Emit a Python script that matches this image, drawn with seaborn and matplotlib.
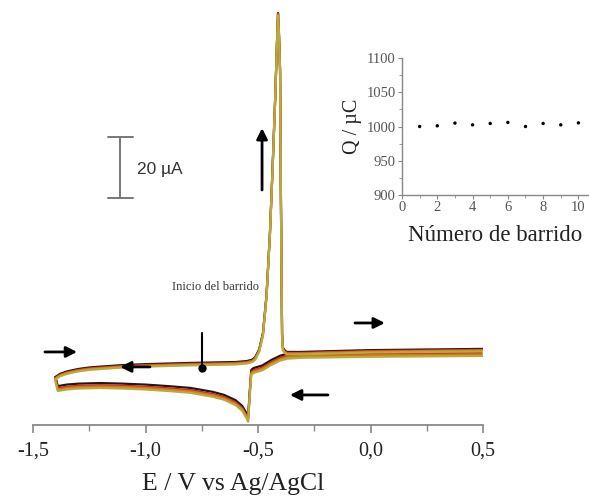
import numpy as np
import pandas as pd
import matplotlib
matplotlib.use("Agg")
import matplotlib.pyplot as plt
import seaborn as sns

# ---- data ----
# forward branch (toward positive potentials), E in V, I in uA
fwd_E = [-1.40, -1.38, -1.35, -1.30, -1.25, -1.20, -1.10, -1.00, -0.80, -0.60, -0.55,
         -0.525, -0.513, -0.495, -0.478, -0.462, -0.447, -0.435, -0.424, -0.416, -0.411,
         -0.407, -0.402, -0.398, -0.393, -0.389, -0.380, -0.371, -0.313, 0.0, 0.5]
fwd_I = [1.0, 2.0, 2.8, 3.6, 4.1, 4.4, 4.9, 5.2, 5.6, 5.9, 6.2,
         6.7, 7.4, 10.0, 15.4, 28.0, 48.2, 70.0, 91.8, 110.0, 120.3,
         114.0, 102.0, 58.5, 15.0, 10.5, 9.6, 9.2, 9.2, 9.8, 10.2]
# reverse branch (toward negative potentials)
rev_E = [0.5, 0.0, -0.3, -0.37, -0.40, -0.44, -0.48, -0.52, -0.53, -0.537, -0.544,
         -0.55, -0.56, -0.57, -0.60, -0.65, -0.70, -0.80, -0.90, -1.00, -1.10,
         -1.20, -1.30, -1.35, -1.39, -1.40]
rev_I = [9.5, 9.2, 8.9, 8.6, 8.0, 6.6, 4.8, 3.9, 3.3, -4.0, -12.1,
         -11.0, -9.8, -8.5, -6.6, -4.9, -3.9, -2.6, -2.0, -1.5, -1.2,
         -1.0, -1.2, -1.5, -2.0, 1.0]
cycles = ["1", "2", "3", "4"]
cycle_colors = ["#1a1a1a", "#e02020", "#d07818", "#b4ac3c"]
fwd_offset = [0.0, -0.3, -0.5, -0.8]
rev_offset = [0.0, -0.7, -1.1, -1.6]

# inset data
scan_n = [1, 2, 3, 4, 5, 6, 7, 8, 9, 10]
charge_Q = [1000, 1001, 1005, 1002.4, 1004.4, 1006, 1000, 1004.4, 1002.4, 1005.3]

# ---- build table ----
rows = []
for c, fo, ro in zip(cycles, fwd_offset, rev_offset):
    k = 0
    for e, i in zip(fwd_E, fwd_I):
        rows.append((c, k, e, i + fo)); k += 1
    for e, i in zip(rev_E, rev_I):
        rows.append((c, k, e, i + ro)); k += 1
cv = pd.DataFrame(rows, columns=["cycle", "order", "E", "I"])
ins = pd.DataFrame({"n": scan_n, "Q": charge_Q})

sns.set_theme(style="white")
plt.rcParams["font.family"] = ["Liberation Serif", "DejaVu Serif"]

fig = plt.figure(figsize=(5.89, 5.00), dpi=100)
ax = fig.add_axes([33/589, 0.15, 450/589, 0.84])

sns.lineplot(data=cv, x="E", y="I", hue="cycle", palette=cycle_colors, sort=False,
             estimator=None, units="cycle", legend=False, lw=1.6, ax=ax)

ax.set_xlim(-1.5, 0.5)
ax.set_ylim(-14.75, 122.95)
for s in ["left", "top", "right"]:
    ax.spines[s].set_visible(False)
ax.spines["bottom"].set_color("#888888")
ax.spines["bottom"].set_linewidth(1.3)
ax.set_yticks([])
ax.set_xticks([-1.5, -1.0, -0.5, 0.0, 0.5])
ax.set_xticklabels(["-1,5", "-1,0", "-0,5", "0,0", "0,5"])
ax.set_xticks([-1.25, -0.75, -0.25, 0.25], minor=True)
ax.tick_params(axis="x", which="major", direction="out", length=6, width=1.2,
               color="#888888", labelsize=14.5, labelcolor="#222222", bottom=True, pad=6)
ax.tick_params(axis="x", which="minor", direction="out", length=4, width=1.0,
               color="#888888", bottom=True)
ax.set_xlabel("E / V vs Ag/AgCl", fontsize=18.5, color="#222222")
ax.xaxis.set_label_coords((233 - 33) / 450, -(473 - 425) / 420)
ax.set_ylabel("")

# annotations
ap = dict(arrowstyle="-|>", lw=2.0, color="black", mutation_scale=16, shrinkA=0, shrinkB=0)
ax.annotate("", xy=(-0.482, 82.6), xytext=(-0.482, 62.3), arrowprops=ap)
ax.annotate("", xy=(-1.304, 9.2), xytext=(-1.447, 9.2), arrowprops=ap)
ax.annotate("", xy=(-1.113, 4.3), xytext=(-0.98, 4.3), arrowprops=ap)
ax.annotate("", xy=(0.064, 18.7), xytext=(-0.069, 18.7), arrowprops=ap)
ax.annotate("", xy=(-0.358, -4.9), xytext=(-0.189, -4.9), arrowprops=ap)
ax.plot([-0.749, -0.749], [15.4, 3.9], color="black", lw=1.5)
ax.plot([-0.749], [3.9], "o", color="black", ms=5)
ax.text(-0.691, 30.5, "Inicio del barrido", fontsize=9, color="#333333",
        ha="center", va="center")

# scale bar
ax.plot([-1.113, -1.113], [59.7, 79.7], color="#777777", lw=1.4)
ax.plot([-1.167, -1.056], [79.7, 79.7], color="#777777", lw=1.4)
ax.plot([-1.167, -1.056], [59.7, 59.7], color="#777777", lw=1.4)
ax.text(-1.038, 68.9, "20 \u00b5A", fontsize=12.5, color="#333333", ha="left",
        va="center", family=["Liberation Sans", "DejaVu Sans"])

# inset
axi = fig.add_axes([402/589, 0.61, 187/589, 0.274])
sns.scatterplot(data=ins, x="n", y="Q", color="black", s=6, marker="o",
                edgecolor="none", ax=axi)
axi.set_xlim(0, 10.6)
axi.set_ylim(900, 1100)
for s in ["top", "right"]:
    axi.spines[s].set_visible(False)
for s in ["left", "bottom"]:
    axi.spines[s].set_color("#888888")
    axi.spines[s].set_linewidth(1.0)
axi.set_xticks([0, 2, 4, 6, 8, 10])
axi.set_xticks([1, 3, 5, 7, 9], minor=True)
axi.set_yticks([900, 950, 1000, 1050, 1100])
axi.set_yticks([925, 975, 1025, 1075], minor=True)
axi.tick_params(which="major", direction="out", length=3, width=0.8, color="#888888",
                labelsize=10.5, labelcolor="#555555", left=True, bottom=True, pad=1.5)
axi.tick_params(which="minor", direction="out", length=2, width=0.6, color="#888888",
                left=True, bottom=True)
axi.set_facecolor("none")
axi.set_xlabel("N\u00famero de barrido", fontsize=16.5, color="#222222", labelpad=8)
axi.set_ylabel("Q / \u00b5C", fontsize=14.5, color="#222222", labelpad=3)

fig.savefig("out.png", dpi=100)
